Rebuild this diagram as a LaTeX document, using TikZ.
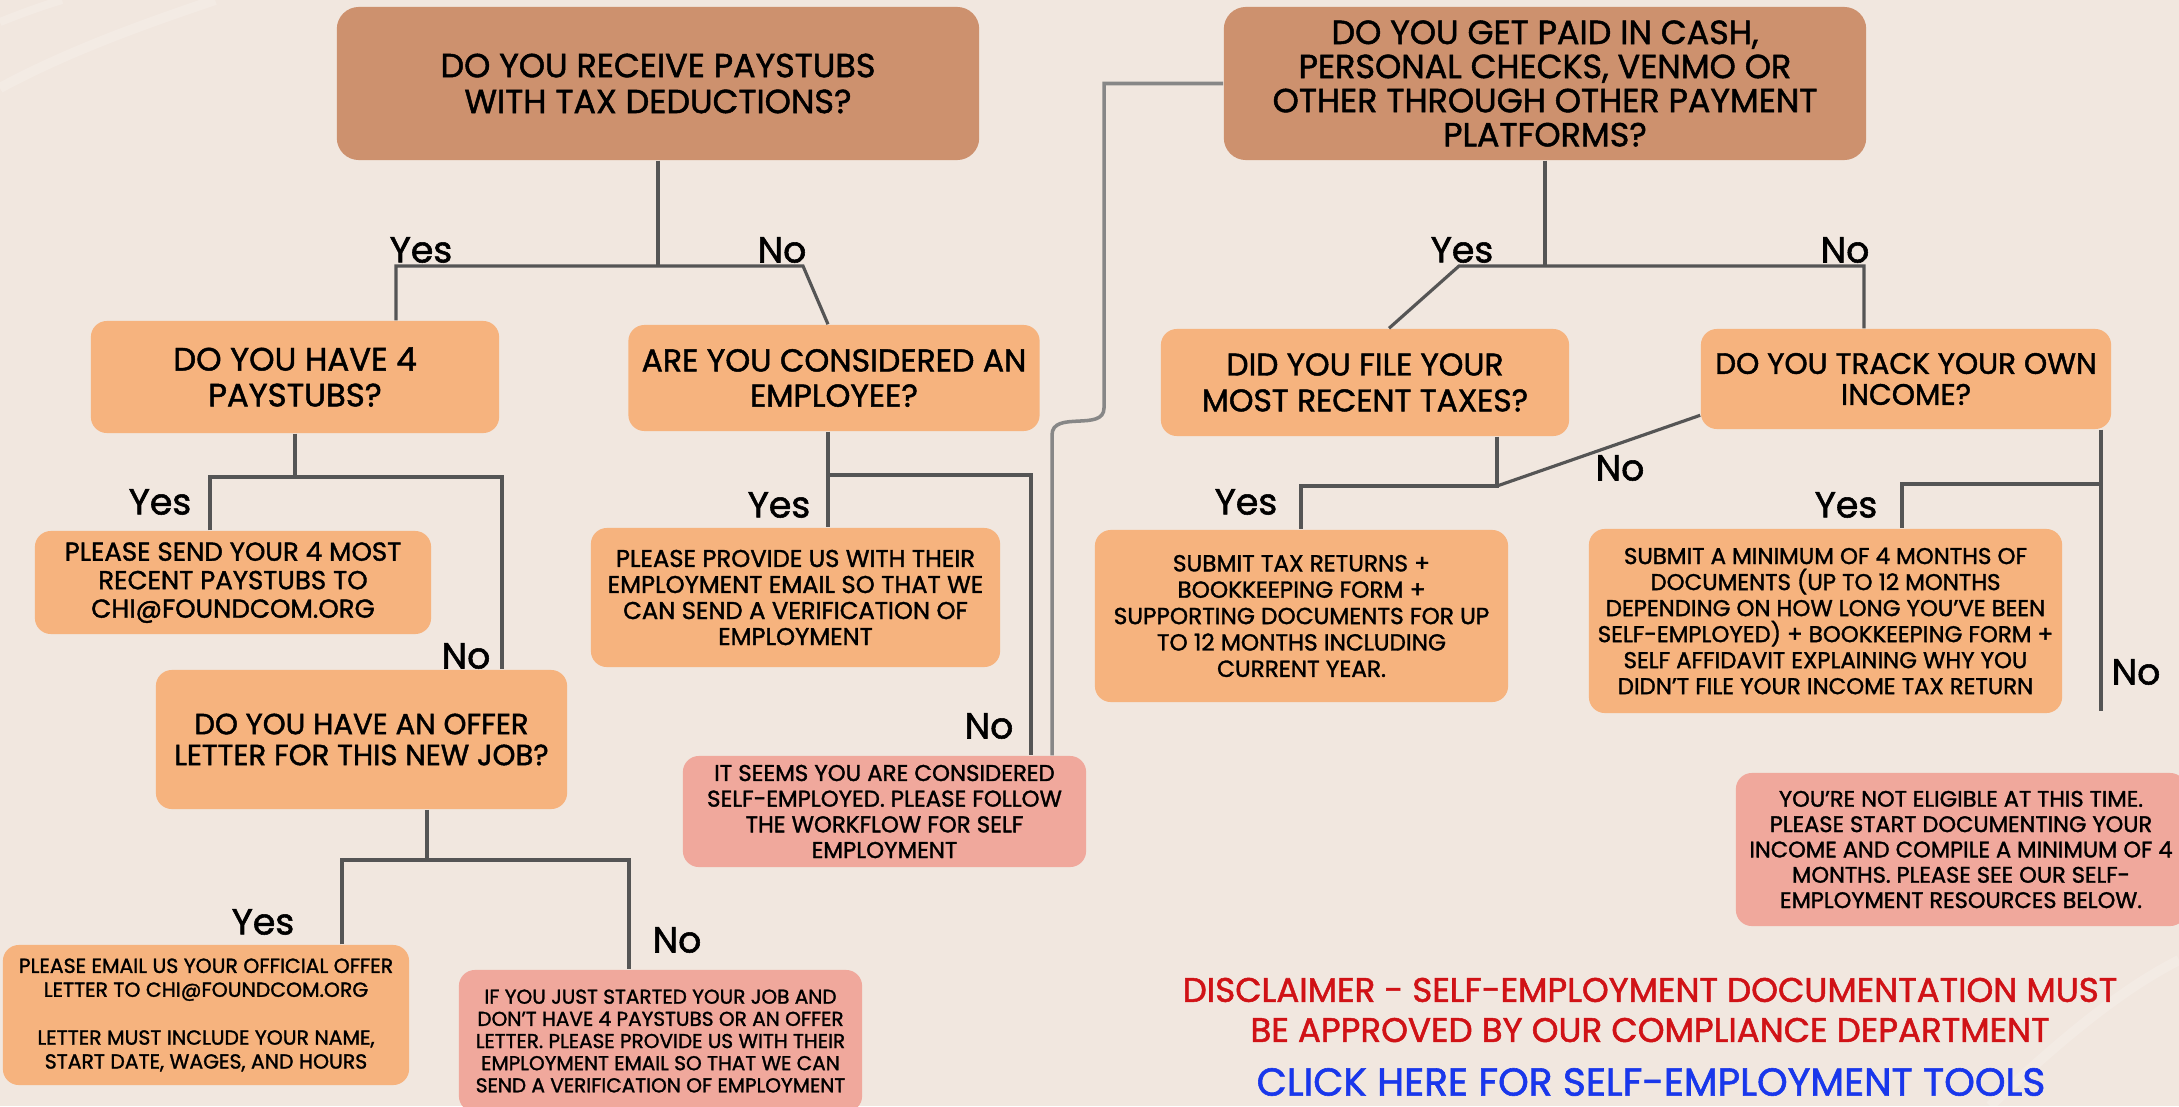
\documentclass[tikz,border=0pt]{standalone}
\usepackage{fontspec}
\usepackage{tikz}
\setmainfont{Poppins}[FakeBold=1.5]
\usetikzlibrary{positioning}
\definecolor{paper}{RGB}{241,231,223}
\definecolor{qdark}{RGB}{205,145,110}
\definecolor{qlight}{RGB}{246,179,126}
\definecolor{qpink}{RGB}{240,168,156}
\definecolor{linegray}{RGB}{85,85,85}
\definecolor{linelight}{RGB}{135,135,135}
\definecolor{warnred}{RGB}{208,18,22}
\definecolor{linkblue}{RGB}{25,55,235}
\tikzset{box/.style = {rounded corners = 0.16cm, align = center, inner sep = 0, text = black}}
\tikzset{darkq/.style = {box, fill = qdark, rounded corners = 0.22cm,
                         font = \fontsize{9.5}{10.2}\selectfont}}
\tikzset{lightq/.style = {box, fill = qlight, font = \fontsize{9}{10}\selectfont}}
\tikzset{answer/.style = {box, fill = qlight}}
\tikzset{warn/.style = {box, fill = qpink}}
\tikzset{link/.style = {draw = linegray, line width = 0.9pt}}
\tikzset{lbl/.style = {inner sep = 0, font = \fontsize{10.3}{10.3}\selectfont}}

\begin{document}
\begin{tikzpicture}[x = 0.01cm, y = -0.01cm]
    \fill [paper] (0, 0) rectangle (2179, 1106);
    \useasboundingbox (0, 0) rectangle (2179, 1106);
    \draw [white, opacity = 0.18, line width = 0.1cm] (0, 88) .. controls (70, 50) and (150, 22) .. (215, 0);
    \draw [white, opacity = 0.18, line width = 0.08cm] (0, 22) .. controls (25, 12) and (45, 5) .. (62, 0);
    \draw [white, opacity = 0.18, line width = 0.1cm] (1990, 1106) .. controls (2060, 1040) and (2120, 990) .. (2179, 960);

    \node (q1) at (658, 83.5) [darkq, minimum width = 6.42cm, minimum height = 1.53cm]
        {DO YOU RECEIVE PAYSTUBS\\WITH TAX DEDUCTIONS?};
    \node (q2) at (1545, 83.5) [darkq, minimum width = 6.42cm, minimum height = 1.53cm,
                                font = \fontsize{9.5}{9.7}\selectfont]
        {DO YOU GET PAID IN CASH,\\PERSONAL CHECKS, VENMO OR\\OTHER THROUGH OTHER PAYMENT\\PLATFORMS?};
    \node (q3) at (295, 377) [lightq, minimum width = 4.08cm, minimum height = 1.12cm,
                              font = \fontsize{9.2}{10.2}\selectfont]
        {DO YOU HAVE 4\\PAYSTUBS?};
    \node (q4) at (834, 378) [lightq, minimum width = 4.11cm, minimum height = 1.06cm]
        {ARE YOU CONSIDERED AN\\EMPLOYEE?};
    \node (q5) at (1365, 382.5) [lightq, minimum width = 4.08cm, minimum height = 1.07cm,
                                 font = \fontsize{8.9}{10.2}\selectfont]
        {DID YOU FILE YOUR\\MOST RECENT TAXES?};
    \node (q6) at (1906, 379) [lightq, minimum width = 4.10cm, minimum height = 1.00cm,
                               font = \fontsize{8.4}{8.8}\selectfont]
        {DO YOU TRACK YOUR OWN\\INCOME?};
    \node (a7) at (233, 582.5) [answer, minimum width = 3.96cm, minimum height = 1.03cm,
                                font = \fontsize{7.4}{8.1}\selectfont]
        {PLEASE SEND YOUR 4 MOST\\RECENT PAYSTUBS TO\\CHI@FOUNDCOM.ORG};
    \node (a8) at (795.5, 597.5) [answer, minimum width = 4.09cm, minimum height = 1.39cm,
                                  font = \fontsize{6.9}{7.4}\selectfont]
        {PLEASE PROVIDE US WITH THEIR\\EMPLOYMENT EMAIL SO THAT WE\\CAN SEND A VERIFICATION OF\\EMPLOYMENT};
    \node (q9) at (361.5, 739.5) [lightq, minimum width = 4.11cm, minimum height = 1.39cm,
                                  font = \fontsize{8.3}{8.8}\selectfont]
        {DO YOU HAVE AN OFFER\\LETTER FOR THIS NEW JOB?};
    \node (p10) at (884.5, 811.5) [warn, minimum width = 4.03cm, minimum height = 1.11cm,
                                   font = \fontsize{6.5}{7.3}\selectfont]
        {IT SEEMS YOU ARE CONSIDERED\\SELF-EMPLOYED. PLEASE FOLLOW\\THE WORKFLOW FOR SELF\\EMPLOYMENT};
    \node (a11) at (206, 1015) [answer, minimum width = 4.06cm, minimum height = 1.40cm,
                                font = \fontsize{5.8}{6.8}\selectfont]
        {PLEASE EMAIL US YOUR OFFICIAL OFFER\\LETTER TO CHI@FOUNDCOM.ORG\\[6.8pt]
         LETTER MUST INCLUDE YOUR NAME,\\START DATE, WAGES, AND HOURS};
    \node (p12) at (660.5, 1041) [warn, minimum width = 4.03cm, minimum height = 1.42cm,
                                  font = \fontsize{5.7}{6.3}\selectfont]
        {IF YOU JUST STARTED YOUR JOB AND\\DON'T HAVE 4 PAYSTUBS OR AN OFFER\\LETTER. PLEASE PROVIDE US WITH THEIR\\EMPLOYMENT EMAIL SO THAT WE CAN\\SEND A VERIFICATION OF EMPLOYMENT};
    \node (a13) at (1301.5, 616) [answer, minimum width = 4.13cm, minimum height = 1.72cm,
                                  font = \fontsize{6.6}{7.5}\selectfont]
        {SUBMIT TAX RETURNS +\\BOOKKEEPING FORM +\\SUPPORTING DOCUMENTS FOR UP\\TO 12 MONTHS INCLUDING\\CURRENT YEAR.};
    \node (a14) at (1825.5, 621) [answer, minimum width = 4.73cm, minimum height = 1.84cm,
                                  font = \fontsize{6.5}{7.4}\selectfont]
        {SUBMIT A MINIMUM OF 4 MONTHS OF\\DOCUMENTS (UP TO 12 MONTHS\\DEPENDING ON HOW LONG YOU'VE BEEN\\SELF-EMPLOYED) + BOOKKEEPING FORM +\\SELF AFFIDAVIT EXPLAINING WHY YOU\\DIDN'T FILE YOUR INCOME TAX RETURN};
    \node (p15) at (1961, 849.5) [warn, minimum width = 4.50cm, minimum height = 1.53cm,
                                  font = \fontsize{6.4}{7.2}\selectfont]
        {YOU'RE NOT ELIGIBLE AT THIS TIME.\\PLEASE START DOCUMENTING YOUR\\INCOME AND COMPILE A MINIMUM OF 4\\MONTHS. PLEASE SEE OUR SELF-\\EMPLOYMENT RESOURCES BELOW.};

    \node (disc) at (1650, 1010) [align = center, inner sep = 0, text = warnred,
                                  font = \fontsize{9.7}{11.4}\selectfont]
        {DISCLAIMER - SELF-EMPLOYMENT DOCUMENTATION MUST\\BE APPROVED BY OUR COMPLIANCE DEPARTMENT};
    \node (tools) at (1651, 1082) [inner sep = 0, text = linkblue, font = \fontsize{11.1}{11}\selectfont]
        {CLICK HERE FOR SELF-EMPLOYMENT TOOLS};

    \coordinate (j1l) at (396, 266);
    \coordinate (j1r) at (803, 266);
    \coordinate (t1) at (828, 475);
    \coordinate (j2l) at (210, 477);
    \coordinate (j2r) at (502, 477);
    \coordinate (j3r) at (1031, 475);
    \coordinate (k1) at (1052, 435);
    \coordinate (k2) at (1104, 408);
    \coordinate (j5l) at (1459, 266);
    \coordinate (j5r) at (1864, 266);
    \coordinate (t5) at (1389, 329);
    \coordinate (j6l) at (1301, 486);
    \coordinate (j6r) at (1497, 486);
    \coordinate (j7l) at (1902, 484);
    \coordinate (j7r) at (2101, 484);
    \coordinate (e7) at (2101, 711);
    \coordinate (t8) at (427, 860);
    \coordinate (j8l) at (342, 860);
    \coordinate (j8r) at (629, 860);

    \draw [link] (q1.south) -- (q1.south |- j1l);
    \draw [link] (q3.north -| j1l) -- (j1l) -- (j1r) -- (q4.north -| t1);
    \draw [link] (q3.south) -- (q3.south |- j2l);
    \draw [link] (a7.north -| j2l) -- (j2l) -- (j2r) -- (q9.north -| j2r);
    \draw [link] (q4.south -| t1) -- (a8.north -| t1);
    \draw [link] (t1) -- (j3r) -- (p10.north -| j3r);
    \draw [link, draw = linelight, line width = 1pt] (p10.north -| k1) -- (k1)
        .. controls (1052, 410) and (1104, 432) .. (k2) |- (q2.west);
    \draw [link] (q2.south) -- (q2.south |- j5l);
    \draw [link] (q5.north -| t5) -- (j5l) -- (j5r) -- (q6.north -| j5r);
    \draw [link] (q5.south -| j6r) -- (j6r) -- (j6l) -- (a13.north -| j6l);
    \draw [link] (q6.190) -- (j6r);
    \draw [link] (q6.south -| j7r) -- (e7);
    \draw [link] (j7r) -- (j7l) -- (a14.north -| j7l);
    \draw [link] (q9.south -| t8) -- (t8);
    \draw [link] (a11.north -| j8l) -- (j8l) -- (j8r) -- (p12.north -| j8r);

    \node (l1) at (421, 250) [lbl] {Yes};
    \node (l2) at (782, 250) [lbl] {No};
    \node (l3) at (160, 502) [lbl] {Yes};
    \node (l4) at (466, 656) [lbl] {No};
    \node (l5) at (779, 505) [lbl] {Yes};
    \node (l6) at (989, 726) [lbl] {No};
    \node (l7) at (1462, 250) [lbl] {Yes};
    \node (l8) at (1845, 250) [lbl] {No};
    \node (l9) at (1246, 502) [lbl] {Yes};
    \node (l10) at (1620, 468) [lbl] {No};
    \node (l11) at (1846, 505) [lbl] {Yes};
    \node (l12) at (2136, 672) [lbl] {No};
    \node (l13) at (263, 922) [lbl] {Yes};
    \node (l14) at (677, 940) [lbl] {No};
\end{tikzpicture}
\end{document}
